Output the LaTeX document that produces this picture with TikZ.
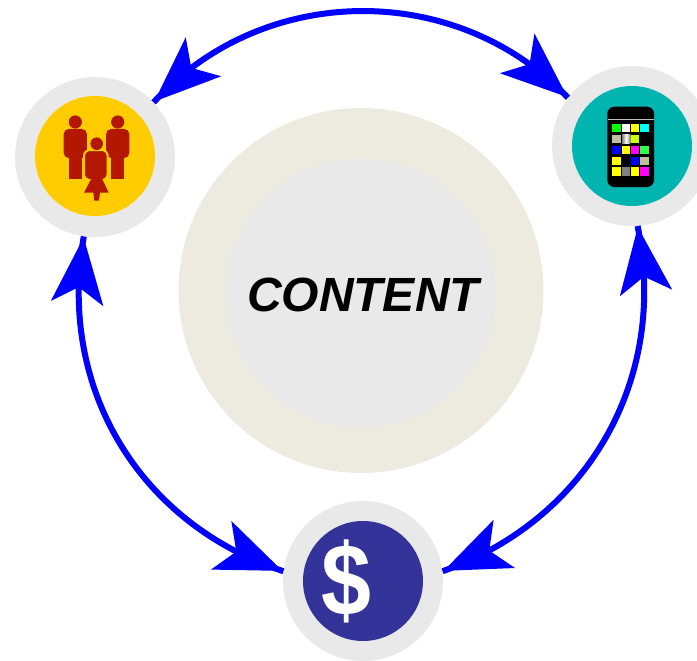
\documentclass[tikz,border=0pt]{standalone}
\usepackage{fontspec}
\setmainfont{Liberation Sans}
\usetikzlibrary{arrows.meta,bending}
\definecolor{ringgray}{HTML}{E9E9E9}
\definecolor{ringbeige}{HTML}{EDEBE0}
\definecolor{peopleyellow}{HTML}{FFCC00}
\definecolor{peoplered}{HTML}{B31700}
\definecolor{phoneteal}{HTML}{00B5B0}
\definecolor{moneyblue}{HTML}{333399}
\definecolor{keykhaki}{HTML}{C0C0A0}
\definecolor{keylime}{HTML}{CCFF00}
\definecolor{keygreen}{HTML}{33FF44}
\definecolor{keyyellow}{HTML}{FFFF00}
\definecolor{keycyan}{HTML}{00FFFF}
\definecolor{keymagenta}{HTML}{FF00FF}
\tikzset{
  halo/.style={circle,fill=ringgray,minimum size=160pt,inner sep=0pt},
  disc/.style={circle,minimum size=120pt,inner sep=0pt},
  flow/.style={line width=6pt,blue,
    {Rectangle[length=4pt,width=6pt,flex] Stealth[length=66pt,width=52pt,inset=16pt,sep=-3pt,flex]}-{Stealth[length=66pt,width=52pt,inset=16pt,sep=-3pt,flex] Rectangle[length=4pt,width=6pt,flex]}}
}
\begin{document}
\begin{tikzpicture}[x=1pt,y=-1pt]
  \clip (0,0) rectangle (697,661);
  \node[circle,fill=ringbeige,minimum size=365pt,inner sep=0pt] (outer) at (361,290.5) {};
  \node[circle,fill=ringgray,minimum size=269pt,inner sep=0pt] (inner) at (361,293) {};
  \node[font=\bfseries\itshape\fontsize{48}{48}\selectfont] (content) at (363,295) {CONTENT};

  \node[halo] (people) at (95,157) {};
  \node[halo] (phone) at (632,146) {};
  \node[halo] (money) at (363,581) {};
  \node[disc,fill=peopleyellow] (peopledisc) at (95,156) {};
  \node[disc,fill=phoneteal] (phonedisc) at (632,146) {};
  \node[disc,fill=moneyblue] (moneydisc) at (363,581) {};

  % people
  \foreach \x in {75.3,117.7}{
    \fill[peoplered] (\x,122) circle (6.6);
    \fill[peoplered,rounded corners=5pt] (\x-11.6,129) rectangle (\x+11.6,158);
    \fill[peoplered] (\x-6.7,150) rectangle (\x+6.7,179);
  }
  \fill[peoplered,draw=peopleyellow,line width=2pt,rounded corners=6pt] (84,150) rectangle (107.7,180);
  \fill[peoplered] (96.7,143.7) circle (6.3);
  \fill[peoplered] (91.7,178)--(101.7,178)--(108.7,192.7)--(100,192.7)--(99,200.7)--(94.3,200.7)--(93.3,192.7)--(84,192.7)--cycle;

  % phone
  \fill[black,rounded corners=7pt] (607.3,106.7) rectangle (654,187);
  \draw[line width=1pt,lightgray] (607.8,119.3)--(653.6,119.3);
  \foreach \x/\y/\c in {612.3/124/green,622/124/white,631/124/keyyellow,640.3/124/keycyan,
      612.3/135/keykhaki,631/135/keylime,
      612.3/145.7/blue,622/145.7/keyyellow,631/145.7/keymagenta,640.3/145.7/keygreen,
      612.3/156.7/keyyellow,631/156.7/blue,640.3/156.7/keykhaki,
      612.3/167.3/keyyellow,622/167.3/gray,631/167.3/keyyellow,640.3/167.3/keymagenta}{
    \fill[\c] (\x,\y) rectangle ++(8.3,8.3);
  }
  \shade[left color=gray,right color=gray,middle color=white] (622,135) rectangle ++(8.3,8.3);

  % money
  \node[font=\bfseries\fontsize{102}{102}\selectfont,white] (dollar) at (346.5,581) {\scalebox{0.88}[1]{\$}};

  \draw[flow] (people.43) to[bend left=47] (phone.143);
  \draw[flow] (people.262) to[bend right=41] (money.173);
  \draw[flow] (phone.274) to[bend left=41] (money.7);
\end{tikzpicture}
\end{document}
